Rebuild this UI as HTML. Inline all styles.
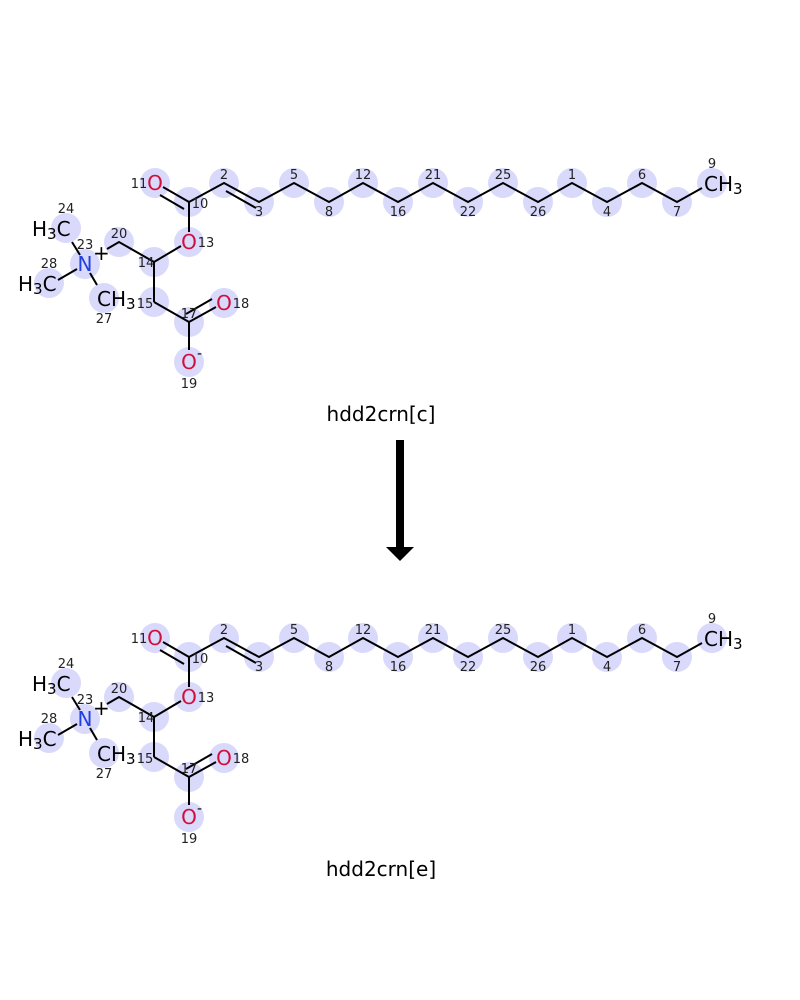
<!DOCTYPE html>
<html><head><meta charset="utf-8"><style>
html,body{margin:0;padding:0;background:#fff;}
svg{display:block;}
text{font-family:"DejaVu Sans","Liberation Sans",sans-serif;}
.n{font-size:13px;fill:#222;}
.a{font-size:20px;}
</style></head><body>
<svg width="800" height="1000" viewBox="0 0 800 1000" xmlns="http://www.w3.org/2000/svg">
<g id="m1">
<g fill="#d9d9fb">
<circle cx="155" cy="183" r="15"/><circle cx="189" cy="202" r="15"/><circle cx="224" cy="183" r="15"/><circle cx="259" cy="202" r="15"/>
<circle cx="294" cy="183" r="15"/><circle cx="329" cy="202" r="15"/><circle cx="363" cy="183" r="15"/><circle cx="398" cy="202" r="15"/>
<circle cx="433" cy="183" r="15"/><circle cx="468" cy="202" r="15"/><circle cx="503" cy="183" r="15"/><circle cx="538" cy="202" r="15"/>
<circle cx="572" cy="183" r="15"/><circle cx="607" cy="202" r="15"/><circle cx="642" cy="183" r="15"/><circle cx="677" cy="202" r="15"/>
<circle cx="712" cy="183" r="15"/>
<circle cx="189" cy="242" r="15"/><circle cx="154" cy="262" r="15"/><circle cx="119" cy="242" r="15"/><circle cx="85" cy="264" r="15"/>
<circle cx="66" cy="228" r="15"/><circle cx="49" cy="283" r="15"/><circle cx="104" cy="298" r="15"/>
<circle cx="154" cy="302" r="15"/><circle cx="189" cy="322" r="15"/><circle cx="224" cy="303" r="15"/><circle cx="189" cy="362" r="15"/>
</g>
<g stroke="#000" stroke-width="2" fill="none">
<line x1="163" y1="187" x2="189" y2="202"/><line x1="160" y1="195" x2="184" y2="209"/>
<polyline points="189,202 224,183 259,202 294,183 329,202 363,183 398,202 433,183 468,202 503,183 538,202 572,183 607,202 642,183 677,202 702,188"/>
<line x1="226" y1="191" x2="256" y2="208"/>
<line x1="189" y1="202" x2="189" y2="232"/>
<line x1="181" y1="246" x2="154" y2="262"/>
<polyline points="154,262 119,242 107,249"/>
<line x1="154" y1="262" x2="154" y2="302"/>
<line x1="154" y1="302" x2="189" y2="322"/>
<line x1="189" y1="322" x2="216" y2="307"/><line x1="186" y1="314" x2="212" y2="299"/>
<line x1="189" y1="322" x2="189" y2="350"/>
<line x1="80" y1="255" x2="72" y2="242"/>
<line x1="77" y1="269" x2="58" y2="280"/>
<line x1="90" y1="273" x2="97" y2="285"/>
</g>
<text class="a" x="155" y="190" fill="#d0103a" text-anchor="middle">O</text>
<text class="a" x="189" y="249" fill="#d0103a" text-anchor="middle">O</text>
<text class="a" x="224" y="310" fill="#d0103a" text-anchor="middle">O</text>
<text class="a" x="189" y="369" fill="#d0103a" text-anchor="middle">O</text>
<text x="197" y="358" font-size="14" fill="#000">-</text>
<text class="a" x="85" y="271" fill="#2040e0" text-anchor="middle">N</text>
<text x="93" y="260" font-size="20" fill="#000">+</text>
<text class="a" x="32" y="236" fill="#000">H<tspan font-size="15" dy="3">3</tspan><tspan dy="-3">C</tspan></text>
<text class="a" x="18" y="291" fill="#000">H<tspan font-size="15" dy="3">3</tspan><tspan dy="-3">C</tspan></text>
<text class="a" x="97" y="306" fill="#000">CH<tspan font-size="15" dy="3">3</tspan></text>
<text class="a" x="704" y="191" fill="#000">CH<tspan font-size="15" dy="3">3</tspan></text>
<g class="n" text-anchor="middle">
<text x="139" y="188">11</text><text x="200" y="208">10</text><text x="224" y="179">2</text><text x="259" y="216">3</text>
<text x="294" y="179">5</text><text x="329" y="216">8</text><text x="363" y="179">12</text><text x="398" y="216">16</text>
<text x="433" y="179">21</text><text x="468" y="216">22</text><text x="503" y="179">25</text><text x="538" y="216">26</text>
<text x="572" y="179">1</text><text x="607" y="216">4</text><text x="642" y="179">6</text><text x="677" y="216">7</text>
<text x="712" y="168">9</text>
<text x="206" y="247">13</text><text x="146" y="267">14</text><text x="119" y="238">20</text><text x="85" y="249">23</text>
<text x="66" y="213">24</text><text x="49" y="268">28</text><text x="104" y="323">27</text>
<text x="145" y="308">15</text><text x="189" y="318">17</text><text x="241" y="308">18</text><text x="189" y="388">19</text>
</g>
</g>
<text x="381" y="421" font-size="20" text-anchor="middle" fill="#000">hdd2crn[c]</text>
<rect x="396" y="440" width="8" height="108" fill="#000"/>
<polygon points="386,547 414,547 400,561" fill="#000"/>
<g transform="translate(0,455)">
<g fill="#d9d9fb">
<circle cx="155" cy="183" r="15"/><circle cx="189" cy="202" r="15"/><circle cx="224" cy="183" r="15"/><circle cx="259" cy="202" r="15"/>
<circle cx="294" cy="183" r="15"/><circle cx="329" cy="202" r="15"/><circle cx="363" cy="183" r="15"/><circle cx="398" cy="202" r="15"/>
<circle cx="433" cy="183" r="15"/><circle cx="468" cy="202" r="15"/><circle cx="503" cy="183" r="15"/><circle cx="538" cy="202" r="15"/>
<circle cx="572" cy="183" r="15"/><circle cx="607" cy="202" r="15"/><circle cx="642" cy="183" r="15"/><circle cx="677" cy="202" r="15"/>
<circle cx="712" cy="183" r="15"/>
<circle cx="189" cy="242" r="15"/><circle cx="154" cy="262" r="15"/><circle cx="119" cy="242" r="15"/><circle cx="85" cy="264" r="15"/>
<circle cx="66" cy="228" r="15"/><circle cx="49" cy="283" r="15"/><circle cx="104" cy="298" r="15"/>
<circle cx="154" cy="302" r="15"/><circle cx="189" cy="322" r="15"/><circle cx="224" cy="303" r="15"/><circle cx="189" cy="362" r="15"/>
</g>
<g stroke="#000" stroke-width="2" fill="none">
<line x1="163" y1="187" x2="189" y2="202"/><line x1="160" y1="195" x2="184" y2="209"/>
<polyline points="189,202 224,183 259,202 294,183 329,202 363,183 398,202 433,183 468,202 503,183 538,202 572,183 607,202 642,183 677,202 702,188"/>
<line x1="226" y1="191" x2="256" y2="208"/>
<line x1="189" y1="202" x2="189" y2="232"/>
<line x1="181" y1="246" x2="154" y2="262"/>
<polyline points="154,262 119,242 107,249"/>
<line x1="154" y1="262" x2="154" y2="302"/>
<line x1="154" y1="302" x2="189" y2="322"/>
<line x1="189" y1="322" x2="216" y2="307"/><line x1="186" y1="314" x2="212" y2="299"/>
<line x1="189" y1="322" x2="189" y2="350"/>
<line x1="80" y1="255" x2="72" y2="242"/>
<line x1="77" y1="269" x2="58" y2="280"/>
<line x1="90" y1="273" x2="97" y2="285"/>
</g>
<text class="a" x="155" y="190" fill="#d0103a" text-anchor="middle">O</text>
<text class="a" x="189" y="249" fill="#d0103a" text-anchor="middle">O</text>
<text class="a" x="224" y="310" fill="#d0103a" text-anchor="middle">O</text>
<text class="a" x="189" y="369" fill="#d0103a" text-anchor="middle">O</text>
<text x="197" y="358" font-size="14" fill="#000">-</text>
<text class="a" x="85" y="271" fill="#2040e0" text-anchor="middle">N</text>
<text x="93" y="260" font-size="20" fill="#000">+</text>
<text class="a" x="32" y="236" fill="#000">H<tspan font-size="15" dy="3">3</tspan><tspan dy="-3">C</tspan></text>
<text class="a" x="18" y="291" fill="#000">H<tspan font-size="15" dy="3">3</tspan><tspan dy="-3">C</tspan></text>
<text class="a" x="97" y="306" fill="#000">CH<tspan font-size="15" dy="3">3</tspan></text>
<text class="a" x="704" y="191" fill="#000">CH<tspan font-size="15" dy="3">3</tspan></text>
<g class="n" text-anchor="middle">
<text x="139" y="188">11</text><text x="200" y="208">10</text><text x="224" y="179">2</text><text x="259" y="216">3</text>
<text x="294" y="179">5</text><text x="329" y="216">8</text><text x="363" y="179">12</text><text x="398" y="216">16</text>
<text x="433" y="179">21</text><text x="468" y="216">22</text><text x="503" y="179">25</text><text x="538" y="216">26</text>
<text x="572" y="179">1</text><text x="607" y="216">4</text><text x="642" y="179">6</text><text x="677" y="216">7</text>
<text x="712" y="168">9</text>
<text x="206" y="247">13</text><text x="146" y="267">14</text><text x="119" y="238">20</text><text x="85" y="249">23</text>
<text x="66" y="213">24</text><text x="49" y="268">28</text><text x="104" y="323">27</text>
<text x="145" y="308">15</text><text x="189" y="318">17</text><text x="241" y="308">18</text><text x="189" y="388">19</text>
</g>
</g>
<text x="381" y="876" font-size="20" text-anchor="middle" fill="#000">hdd2crn[e]</text>
</svg>
</body></html>
